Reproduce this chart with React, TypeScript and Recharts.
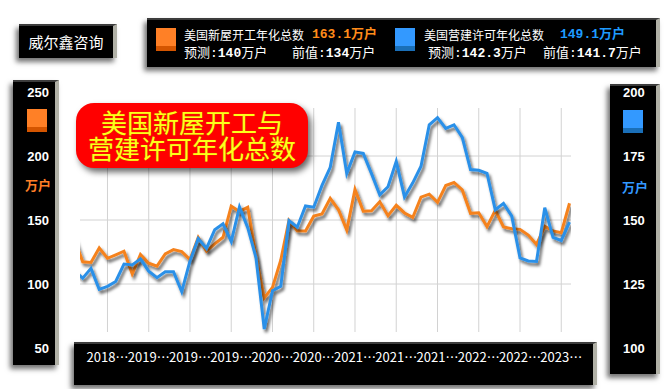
import React from 'react'
import { LineChart, Line, XAxis, YAxis, CartesianGrid } from 'recharts'

// 2018-05 .. 2023-05, monthly (first-release values, 万户)
const yueFen = [
  '2018-05', '2018-06', '2018-07', '2018-08', '2018-09', '2018-10', '2018-11', '2018-12',
  '2019-01', '2019-02', '2019-03', '2019-04', '2019-05', '2019-06', '2019-07', '2019-08', '2019-09', '2019-10', '2019-11', '2019-12',
  '2020-01', '2020-02', '2020-03', '2020-04', '2020-05', '2020-06', '2020-07', '2020-08', '2020-09', '2020-10', '2020-11', '2020-12',
  '2021-01', '2021-02', '2021-03', '2021-04', '2021-05', '2021-06', '2021-07', '2021-08', '2021-09', '2021-10', '2021-11', '2021-12',
  '2022-01', '2022-02', '2022-03', '2022-04', '2022-05', '2022-06', '2022-07', '2022-08', '2022-09', '2022-10', '2022-11', '2022-12',
  '2023-01', '2023-02', '2023-03', '2023-04', '2023-05'
]

const xinWuKaiGong = [
  135.0, 117.3, 116.8, 128.2, 120.1, 122.8, 125.6, 107.8,
  123.0, 116.2, 113.9, 123.5, 126.9, 125.3, 119.1, 136.4, 125.6, 131.4, 136.5, 160.8,
  156.7, 159.9, 121.6, 89.1, 97.4, 118.6, 149.6, 141.6, 141.5, 153.0, 154.7, 166.9,
  158.0, 142.1, 173.9, 156.9, 157.2, 164.3, 153.4, 161.5, 155.5, 152.0, 167.9, 170.2,
  163.8, 176.9, 179.3, 173.5, 155.2, 155.6, 144.8, 157.5, 144.5, 143.2, 142.7, 138.2,
  130.9, 145.0, 141.5, 140.1, 163.1
]

const yingJianXuKe = [
  130.1, 127.3, 131.1, 122.9, 124.1, 126.0, 132.8, 132.4,
  134.8, 130.0, 127.5, 129.8, 129.8, 122.0, 134.0, 142.8, 138.9, 146.2, 148.5, 141.6,
  155.1, 147.0, 135.3, 107.4, 122.4, 124.1, 149.8, 147.2, 155.5, 155.0, 163.5, 170.6,
  188.2, 168.2, 176.6, 176.0, 168.1, 159.8, 163.0, 172.9, 159.0, 164.5, 171.0, 187.2,
  190.0, 185.8, 187.2, 182.3, 169.7, 169.4, 168.2, 154.0, 156.5, 151.5, 135.2, 134.0,
  133.8, 154.8, 143.2, 142.0, 149.2
]

const zuoKedu = [50, 100, 150, 200, 250]
const youKedu = [100, 125, 150, 175, 200]
const wangGeZhi = [100, 150, 200]
const xKeduBiaoQian = ['2018…', '2019…', '2019…', '2019…', '2020…', '2020…', '2021…', '2021…', '2021…', '2022…', '2022…', '2023…']

const shuJu = yueFen.map((month, idx) => ({
  idx,
  month,
  starts: xinWuKaiGong[idx],
  permits: yingJianXuKe[idx]
}))

// gridline / label months: 2018-09, 2019-02, ... every 5 months
const xKeduWeiZhi = xKeduBiaoQian.map((_, k) => 4 + 5 * k)

const cheng = '#f5821f'
const lan = '#2b90e8'

const mianBan = (left: number, top: number, width: number, height: number): React.CSSProperties => ({
  position: 'absolute', left, top, width, height,
  background: '#000',
  boxSizing: 'border-box',
  borderRight: '4px solid #b0b0a6',
  borderTop: '2px solid #3c3c3c',
  boxShadow: '-3px 4px 5px rgba(0,0,0,0.55)'
})

const fangKuai = (left: number, top: number, shang: string, xia: string): React.CSSProperties => ({
  position: 'absolute', left, top, width: 20, height: 23,
  background: `linear-gradient(${shang} 0 78%, ${xia} 78% 100%)`
})

const zhongWen = '"Noto Sans CJK SC", sans-serif'
const shuZi = '"Liberation Mono", "Noto Sans CJK SC", monospace'

const Yuan = (p: { left: number, top: number, color?: string, bold?: boolean, size?: number, children: React.ReactNode }) => (
  <div style={{
    position: 'absolute', left: p.left, top: p.top, whiteSpace: 'nowrap',
    color: p.color || '#fff', fontSize: p.size || 13, lineHeight: '16px',
    fontFamily: shuZi, fontWeight: p.bold ? 700 : 400
  }}>{p.children}</div>
)

export default function App() {
  const tickZuo = { fill: '#fff', fontSize: 13, fontWeight: 700, fontFamily: '"Liberation Sans", sans-serif' }

  return (
    <div style={{ position: 'absolute', left: 0, top: 0, width: 670, height: 389, background: '#fff', overflow: 'hidden' }}>
      {/* black panels behind the chart */}
      <div style={mianBan(13, 80, 46, 285)} />
      <div style={mianBan(610, 84, 50, 290)} />
      <div style={mianBan(74, 342, 523, 43)} />

      <div style={fangKuai(27, 109, '#ff8026', '#d45500')} />
      <div style={{ position: 'absolute', left: 24, top: 177, width: 28, textAlign: 'center', color: '#ff7f27', fontSize: 13, fontWeight: 700, fontFamily: zhongWen, lineHeight: '16px' }}>万户</div>
      <div style={fangKuai(623, 110, '#3399ff', '#1a6fb8')} />
      <div style={{ position: 'absolute', left: 621, top: 179, width: 28, textAlign: 'center', color: '#3399ff', fontSize: 13, fontWeight: 700, fontFamily: zhongWen, lineHeight: '16px' }}>万户</div>

      <div style={{ position: 'absolute', left: 0, top: 0, zIndex: 1 }}>
        <LineChart width={670} height={389} data={shuJu} margin={{ top: 92, right: 0, bottom: 0, left: 0 }}>
          <defs>
            <filter id="xianYing" x="-5%" y="-10%" width="110%" height="130%">
              <feDropShadow dx="2" dy="3" stdDeviation="1.6" floodColor="#000" floodOpacity="0.6" />
            </filter>
          </defs>
          <CartesianGrid stroke="#d2d2d2" yAxisId="left" horizontalValues={wangGeZhi} verticalValues={xKeduWeiZhi} y={108} height={224} />
          <XAxis
            type="number" dataKey="idx" domain={[0.67, 60.18]} allowDataOverflow
            ticks={xKeduWeiZhi} interval={0}
            tickFormatter={(v: number) => xKeduBiaoQian[xKeduWeiZhi.indexOf(v)]}
            height={41} axisLine={false} tickLine={false} tickSize={0} tickMargin={5}
            tick={{ fill: '#fff', fontSize: 13, fontFamily: zhongWen }}
          />
          <YAxis yAxisId="left" domain={[50, 250]} ticks={zuoKedu} width={80} axisLine={false} tickLine={false} tickSize={0} tickMargin={31} tick={tickZuo} />
          <YAxis yAxisId="right" orientation="right" domain={[100, 200]} ticks={youKedu} width={99} axisLine={false} tickLine={false} tickSize={0} tickMargin={52} tick={tickZuo} />
          <Line yAxisId="left" dataKey="starts" stroke={cheng} strokeWidth={3} dot={false} activeDot={false} isAnimationActive={false} filter="url(#xianYing)" />
          <Line yAxisId="right" dataKey="permits" stroke={lan} strokeWidth={3} dot={false} activeDot={false} isAnimationActive={false} filter="url(#xianYing)" />
        </LineChart>
      </div>

      {/* brand box */}
      <div style={{ ...mianBan(19, 24, 98, 34), zIndex: 2, color: '#fff', fontFamily: zhongWen, fontSize: 15, lineHeight: '32px', textAlign: 'center' }}>威尔鑫咨询</div>

      {/* legend */}
      <div style={{ ...mianBan(147, 18, 513, 49), zIndex: 2 }}>
        <div style={fangKuai(9, 8, '#ff8026', '#d45500')} />
        <Yuan left={37} top={7} size={12}><span style={{ fontFamily: zhongWen }}>美国新屋开工年化总数</span></Yuan>
        <Yuan left={165} top={7} color="#ff8c1a" bold>163.1万户</Yuan>
        <Yuan left={37} top={26}>预测:<b>140</b>万户</Yuan>
        <Yuan left={145} top={26}>前值:<b>134</b>万户</Yuan>

        <div style={fangKuai(248, 8, '#3399ff', '#1a6fb8')} />
        <Yuan left={277} top={7} size={12}><span style={{ fontFamily: zhongWen }}>美国营建许可年化总数</span></Yuan>
        <Yuan left={413} top={7} color="#1e9bff" bold>149.1万户</Yuan>
        <Yuan left={281} top={26}>预测:<b>142.3</b>万户</Yuan>
        <Yuan left={396} top={26}>前值:<b>141.7</b>万户</Yuan>
      </div>

      {/* title */}
      <div style={{
        position: 'absolute', left: 76, top: 103, width: 232, height: 65, zIndex: 2,
        background: '#ff0000', borderRadius: 18,
        boxShadow: '3px 4px 6px rgba(0,0,0,0.6)',
        color: '#ffff1a', fontFamily: zhongWen, fontSize: 26, lineHeight: '26px',
        textAlign: 'center', paddingTop: 6, boxSizing: 'border-box',
        textShadow: '0 0 1px #b08000'
      }}>
        <div>美国新屋开工与</div>
        <div>营建许可年化总数</div>
      </div>
    </div>
  )
}
